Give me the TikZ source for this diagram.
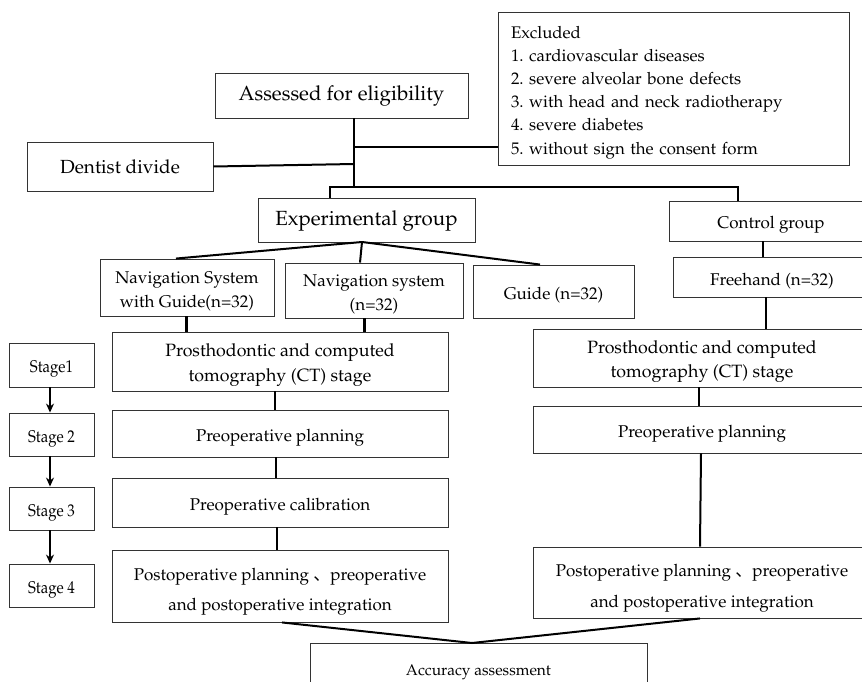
\documentclass[tikz,border=0pt]{standalone}
\usepackage{fontspec}
\newfontfamily\cjk{Noto Sans CJK SC}
\usepackage[T1]{fontenc}
\usepackage{mathpazo}
\usepackage{graphicx}
\usetikzlibrary{arrows.meta}
\newcommand\dn{\rule{0pt}{20pt}}
\newcommand\dnn{\rule{0pt}{23pt}}
\tikzset{
  box/.style={draw=black!80, line width=0.9pt, inner sep=0pt, align=center,
    font=\fontsize{17}{23.5}\selectfont\frenchspacing},
  bigbox/.style={box, font=\fontsize{20.5}{24}\selectfont},
  conn/.style={line width=2pt},
  thickconn/.style={line width=3pt},
  stagearrow/.style={line width=1.3pt, -{Stealth[length=9pt,width=8pt]}}
}
\begin{document}
\begin{tikzpicture}[x=1pt,y=-1pt]
\useasboundingbox (0,0) rectangle (862,682);
\clip (0,0) rectangle (862,682);
% top
\node[bigbox, minimum width=253, minimum height=45] (assess) at (341.5,95.5) {Assessed for eligibility};
\node[bigbox, minimum width=186, minimum height=49, font=\fontsize{19}{24}\selectfont] (dentist) at (120,166.5) {Dentist divide};
\node[box, minimum width=351, minimum height=153, text width=325, inner xsep=13pt, align=left,
  font=\fontsize{16.8}{23.2}\selectfont\frenchspacing] (excl) at (673.5,88.5)
  {\dn Excluded\\1. cardiovascular diseases\\2. severe alveolar bone defects\\3. with head and neck radiotherapy\\4. severe diabetes\\5. without sign the consent form};
\node[bigbox, minimum width=217, minimum height=44] (exp) at (366.5,220) {\rule{0pt}{17pt}Experimental group};
\node[box, minimum width=204, minimum height=40] (ctrl) at (771,221) {\dn Control group};
% groups
\node[box, minimum width=174, minimum height=57] (nswg) at (187,287.5) {\dn Navigation System\\with Guide(n=32)};
\node[box, minimum width=178, minimum height=55, font=\fontsize{17}{24}\selectfont] (ns) at (374,290.5) {\dn Navigation system\\(n=32)};
\node[box, minimum width=161, minimum height=53] (guide) at (553.5,291.5) {\dn Guide (n=32)};
\node[box, minimum width=198, minimum height=40] (free) at (772,277) {\dn Freehand (n=32)};
% left column
\node[box, minimum width=336, minimum height=59, font=\fontsize{17.8}{25}\selectfont] (lpros) at (280,361.5) {\dn Prosthodontic and computed\\tomography (CT) stage};
\node[box, minimum width=336, minimum height=47] (lpre) at (280,433.5) {\dn Preoperative planning};
\node[box, minimum width=336, minimum height=49] (lcal) at (280,502.5) {\dn Preoperative calibration};
\node[box, minimum width=336, minimum height=72, font=\fontsize{17}{30}\selectfont] (lpost) at (280,586)
  {\dnn Postoperative planning {\cjk 、}preoperative\\and postoperative integration};
% right column
\node[box, minimum width=338, minimum height=58, font=\fontsize{17.8}{24}\selectfont] (rpros) at (702,358) {\dn Prosthodontic and computed\\tomography (CT) stage};
\node[box, minimum width=338, minimum height=47] (rpre) at (702,429.5) {\dn Preoperative planning};
\node[box, minimum width=338, minimum height=71, font=\fontsize{17}{31}\selectfont] (rpost) at (702,582.5)
  {\dnn Postoperative planning {\cjk 、}preoperative\\and postoperative integration};
% bottom
\node[box, minimum width=337, minimum height=50, font=\fontsize{15.5}{20}\selectfont] (acc) at (478.5,668) {\dn Accuracy assessment};
% stages
\node[box, minimum width=85, minimum height=44] (s1) at (51.5,365) {\dn\scalebox{0.88}[1]{Stage1}};
\node[box, minimum width=85, minimum height=43] (s2) at (51.5,434.5) {\dn\scalebox{0.88}[1]{Stage 2}};
\node[box, minimum width=85, minimum height=43] (s3) at (51.5,508.5) {\dn\scalebox{0.88}[1]{Stage 3}};
\node[box, minimum width=85, minimum height=43] (s4) at (51.5,585.5) {\dn\scalebox{0.88}[1]{Stage 4}};
% junction coordinates
\coordinate (jA) at (354,147);
\coordinate (jD) at (354,164);
\coordinate (jB) at (354,187);
\coordinate (bL) at (330,187);
\coordinate (bR) at (738,187);
\coordinate (eB) at (362,242);
\coordinate (aJ) at (472,643);
% connectors top
\draw[conn] (assess.south -| jB) -- (jB);
\draw[conn] (jA) -- (excl.west |- jA);
\draw[conn] (dentist.east) -- (jD);
\draw[conn] (exp.north -| bL) -- (bL) -- (bR) -- (ctrl.north -| bR);
% experimental split
\draw[conn] (eB) -- ([xshift=-11pt]nswg.north);
\draw[conn] (eB) -- ([xshift=-14pt]ns.north);
\draw[conn] (eB) -- ([xshift=-13.5pt]guide.north);
% control column
\draw[conn] ([xshift=-8pt]ctrl.south) -- ([xshift=-9pt]free.north);
\draw[conn] ([xshift=-6pt]free.south) -- ([xshift=64pt]rpros.north);
\draw[conn] ([xshift=-3pt]rpros.south) -- ([xshift=-3pt]rpre.north);
\draw[conn] ([xshift=-1pt]rpre.south) -- ([xshift=-2pt]rpost.north);
% left column
\draw[thickconn] ([xshift=-1pt]nswg.south) -- ([xshift=-94pt]lpros.north);
\draw[thickconn] ([xshift=-10pt]ns.south) -- ([xshift=84pt]lpros.north);
\draw[conn] ([xshift=-5pt]lpros.south) -- ([xshift=-5pt]lpre.north);
\draw[conn] ([xshift=-4pt]lpre.south) -- ([xshift=-4pt]lcal.north);
\draw[conn] ([xshift=-3pt]lcal.south) -- ([xshift=-3pt]lpost.north);
% to accuracy
\draw[conn] ([xshift=2pt]lpost.south) -- (aJ);
\draw[conn] ([xshift=-2pt]rpost.south) -- (aJ);
% stage arrows
\draw[stagearrow] ([xshift=-1.5pt]s1.south) -- ([xshift=-1.5pt]s2.north);
\draw[stagearrow] ([xshift=-1.5pt]s2.south) -- ([xshift=-1.5pt]s3.north);
\draw[stagearrow] ([xshift=-1.5pt]s3.south) -- ([xshift=-1.5pt]s4.north);
\end{tikzpicture}
\end{document}
